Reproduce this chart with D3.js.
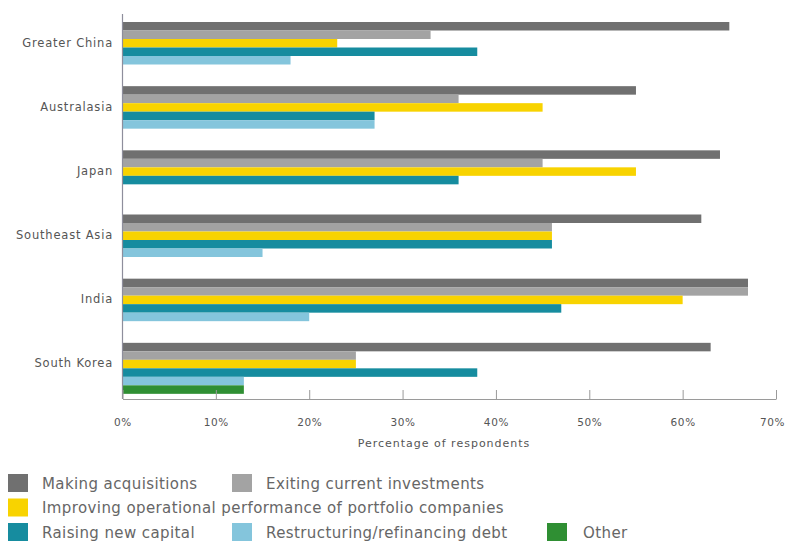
<!DOCTYPE html>
<html>
<head>
<meta charset="utf-8">
<script src="https://cdn.jsdelivr.net/npm/d3@7"></script>
<style>
  html, body { margin: 0; padding: 0; background: #fff; }
  svg { display: block; font-family: "DejaVu Sans", sans-serif; }
</style>
</head>
<body>
<svg id="chart" width="787" height="544"></svg>
<script>
// Regions, top to bottom
const regions = ["Greater China", "Australasia", "Japan", "Southeast Asia", "India", "South Korea"];

// Priority series (percentage of respondents per region)
const seriesNames = [
  "Making acquisitions",
  "Exiting current investments",
  "Improving operational performance of portfolio companies",
  "Raising new capital",
  "Restructuring/refinancing debt",
  "Other"
];
const makingAcquisitions   = [65, 55, 64, 62, 67, 63];
const exitingInvestments   = [33, 36, 45, 46, 67, 25];
const improvingOperations  = [23, 45, 55, 46, 60, 25];
const raisingCapital       = [38, 27, 36, 46, 47, 38];
const restructuringDebt    = [18, 27, 0, 15, 20, 13];
const otherPriority        = [0, 0, 0, 0, 0, 13];

const seriesValues = [makingAcquisitions, exitingInvestments, improvingOperations,
                      raisingCapital, restructuringDebt, otherPriority];
const seriesColors = ["#707070", "#a3a3a3", "#f8d300", "#168c9f", "#84c5dc", "#2f8f33"];

const tickValues = [0, 10, 20, 30, 40, 50, 60, 70];
const tickLabels = ["0%", "10%", "20%", "30%", "40%", "50%", "60%", "70%"];

const svg = d3.select("#chart");

const plot = { left: 122.5, right: 776, top: 14, bottom: 399 };

const x = d3.scaleLinear().domain([0, 70]).range([plot.left, plot.right]);
const y0 = d3.scaleBand().domain(regions).range([plot.top, plot.bottom]).padding(0);
const y1 = d3.scaleBand().domain(d3.range(seriesNames.length)).range([8, 59]).padding(0);

// Bars
const groups = svg.append("g").selectAll("g")
  .data(regions)
  .join("g")
  .attr("transform", d => `translate(0,${y0(d)})`);

groups.selectAll("rect")
  .data((region, ri) => seriesValues.map((vals, si) => ({ si, v: vals[ri] })).filter(d => d.v > 0))
  .join("rect")
  .attr("x", x(0))
  .attr("y", d => y1(d.si))
  .attr("width", d => x(d.v) - x(0))
  .attr("height", y1.bandwidth())
  .attr("fill", d => seriesColors[d.si]);

// Category labels
svg.append("g").selectAll("text")
  .data(regions)
  .join("text")
  .attr("x", 113)
  .attr("y", d => y0(d) + y0.bandwidth() / 2 - 3)
  .attr("text-anchor", "end")
  .attr("dominant-baseline", "middle")
  .attr("font-size", 11.5)
  .attr("letter-spacing", 0.8)
  .attr("fill", "#555")
  .text(d => d);

// Vertical axis line
svg.append("line")
  .attr("x1", plot.left).attr("x2", plot.left)
  .attr("y1", plot.top).attr("y2", plot.bottom)
  .attr("stroke", "#8e8e9c").attr("stroke-width", 1.2);

// Bottom axis with upward ticks
const xAxis = d3.axisBottom(x)
  .tickValues(tickValues)
  .tickFormat((d, i) => tickLabels[i])
  .tickSizeInner(-9)
  .tickSizeOuter(0)
  .tickPadding(20);

const axisG = svg.append("g")
  .attr("transform", `translate(0,${plot.bottom})`)
  .call(xAxis);
axisG.select(".domain").attr("stroke", "#9a9a9a");
axisG.selectAll(".tick line").attr("stroke", "#9a9a9a");
axisG.selectAll(".tick text")
  .attr("font-family", "'DejaVu Sans', sans-serif")
  .attr("font-size", 10.5)
  .attr("letter-spacing", 0.6)
  .attr("fill", "#555")
  .attr("dx", (d, i) => i === tickValues.length - 1 ? -4 : 0);

// Axis title
svg.append("text")
  .attr("x", 444)
  .attr("y", 447)
  .attr("text-anchor", "middle")
  .attr("font-size", 11)
  .attr("letter-spacing", 1)
  .attr("fill", "#555")
  .text("Percentage of respondents");

// Legend
const legendItems = [
  { si: 0, x: 8,   row: 0 },
  { si: 1, x: 232, row: 0 },
  { si: 2, x: 8,   row: 1 },
  { si: 3, x: 8,   row: 2 },
  { si: 4, x: 232, row: 2 },
  { si: 5, x: 547, row: 2 }
];
const legendTop = 474, rowStep = 24.5;

const legend = svg.append("g").selectAll("g")
  .data(legendItems)
  .join("g")
  .attr("transform", d => `translate(${d.x},${legendTop + d.row * rowStep})`);

legend.append("rect")
  .attr("width", 20).attr("height", 18)
  .attr("fill", d => seriesColors[d.si]);

legend.append("text")
  .attr("x", d => d.si === 5 ? 36 : 34)
  .attr("y", 14.5)
  .attr("font-size", 15)
  .attr("letter-spacing", 0.4)
  .attr("fill", "#666")
  .text(d => seriesNames[d.si]);
</script>
</body>
</html>
